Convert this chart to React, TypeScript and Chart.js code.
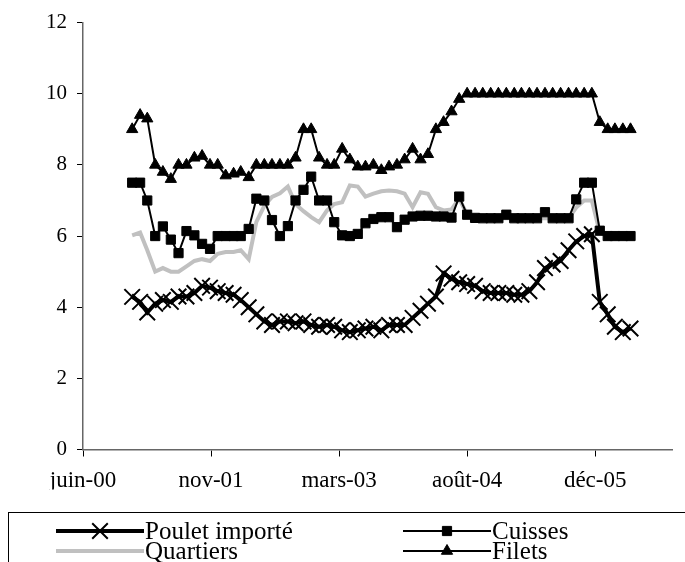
import React, { useEffect, useRef } from "react";
import { Chart, registerables } from "chart.js";

Chart.register(...registerables);

// Monthly observations (Jan 2001 .. May 2006)
const months = [
  "2001-01", "2001-02", "2001-03", "2001-04", "2001-05", "2001-06", "2001-07", "2001-08", "2001-09", "2001-10", "2001-11", "2001-12",
  "2002-01", "2002-02", "2002-03", "2002-04", "2002-05", "2002-06", "2002-07", "2002-08", "2002-09", "2002-10", "2002-11", "2002-12",
  "2003-01", "2003-02", "2003-03", "2003-04", "2003-05", "2003-06", "2003-07", "2003-08", "2003-09", "2003-10", "2003-11", "2003-12",
  "2004-01", "2004-02", "2004-03", "2004-04", "2004-05", "2004-06", "2004-07", "2004-08", "2004-09", "2004-10", "2004-11", "2004-12",
  "2005-01", "2005-02", "2005-03", "2005-04", "2005-05", "2005-06", "2005-07", "2005-08", "2005-09", "2005-10", "2005-11", "2005-12",
  "2006-01", "2006-02", "2006-03", "2006-04", "2006-05",
];

const pouletImporte = [
  4.29, 4.15, 3.85, 4.1, 4.2, 4.15, 4.3, 4.3, 4.4, 4.6, 4.55, 4.45,
  4.4, 4.35, 4.2, 4.0, 3.8, 3.6, 3.5, 3.6, 3.6, 3.55, 3.6, 3.5,
  3.45, 3.5, 3.45, 3.35, 3.3, 3.35, 3.4, 3.45, 3.35, 3.5, 3.5, 3.5,
  3.7, 3.9, 4.1, 4.3, 4.95, 4.8, 4.7, 4.65, 4.6, 4.45, 4.4, 4.4,
  4.4, 4.35, 4.35, 4.45, 4.7, 5.1, 5.2, 5.3, 5.6, 5.85, 6.0, 6.05,
  4.15, 3.8, 3.45, 3.3, 3.4,
];

const cuisses = [
  7.5, 7.5, 7.0, 6.0, 6.27, 5.9, 5.52, 6.14, 6.02, 5.78, 5.64, 6.0,
  6.0, 6.0, 6.0, 6.2, 7.05, 7.0, 6.45, 6.0, 6.28, 7.0, 7.3, 7.67,
  7.0, 7.0, 6.39, 6.02, 6.0, 6.06, 6.36, 6.48, 6.53, 6.53, 6.25, 6.46,
  6.55, 6.57, 6.57, 6.55, 6.55, 6.52, 7.11, 6.6, 6.51, 6.5, 6.5, 6.5,
  6.6, 6.5, 6.5, 6.5, 6.5, 6.67, 6.5, 6.5, 6.5, 7.03, 7.5, 7.5,
  6.15, 6.0, 6.0, 6.0, 6.0,
];

const quartiers = [
  6.02, 6.1, 5.6, 5.0, 5.1, 5.0, 5.0, 5.15, 5.3, 5.35, 5.3, 5.5,
  5.55, 5.55, 5.6, 5.35, 6.4, 6.85, 7.1, 7.2, 7.39, 6.9, 6.7, 6.53,
  6.39, 6.72, 6.9, 6.95, 7.42, 7.39, 7.11, 7.19, 7.26, 7.28, 7.26, 7.19,
  6.81, 7.23, 7.19, 6.81, 6.72, 6.75, 7.05, 6.6, 6.5, 6.5, 6.5, 6.5,
  6.5, 6.5, 6.5, 6.5, 6.5, 6.5, 6.5, 6.5, 6.5, 6.8, 7.0, 7.0,
  6.1, 6.0, 6.0, 6.0, 6.0,
];

const filets = [
  9.0, 9.4, 9.3, 8.0, 7.8, 7.6, 8.0, 8.0, 8.2, 8.25, 8.0, 8.0,
  7.7, 7.75, 7.8, 7.65, 8.0, 8.0, 8.0, 8.0, 8.0, 8.2, 9.0, 9.0,
  8.2, 8.0, 8.0, 8.45, 8.15, 7.95, 7.95, 8.0, 7.85, 7.95, 8.0, 8.15,
  8.45, 8.15, 8.3, 9.0, 9.2, 9.5, 9.85, 10.0, 10.0, 10.0, 10.0, 10.0,
  10.0, 10.0, 10.0, 10.0, 10.0, 10.0, 10.0, 10.0, 10.0, 10.0, 10.0, 10.0,
  9.2, 9.0, 9.0, 9.0, 9.0,
];

const seriesLabels = ["Poulet importé", "Cuisses", "Quartiers", "Filets"];

// X axis: Excel date serials, one tick every 500 days
const xTickValues = [36700, 37200, 37700, 38200, 38700];
const xTickLabels = ["juin-00", "nov-01", "mars-03", "août-04", "déc-05"];
const xMin = 36700;
const xMax = 39000;
const yMin = 0;
const yMax = 12;
const yStep = 2;

const FONT = "'Liberation Serif', 'Times New Roman', serif";

function toSerial(ym: string): number {
  const [y, m] = ym.split("-").map(Number);
  return (Date.UTC(y, m - 1, 1) - Date.UTC(1899, 11, 30)) / 86400000;
}

function pts(values: number[]) {
  return months.map((m, i) => ({ x: toSerial(m), y: values[i] }));
}

function drawMarker(ctx: CanvasRenderingContext2D, style: string, x: number, y: number, r: number) {
  ctx.beginPath();
  if (style === "crossRot") {
    const d = r * Math.SQRT1_2;
    ctx.moveTo(x - d, y - d);
    ctx.lineTo(x + d, y + d);
    ctx.moveTo(x + d, y - d);
    ctx.lineTo(x - d, y + d);
    ctx.stroke();
  } else if (style === "rect") {
    const s = r * Math.SQRT1_2;
    ctx.rect(x - s, y - s, 2 * s, 2 * s);
    ctx.fill();
    ctx.stroke();
  } else if (style === "triangle") {
    ctx.moveTo(x, y - r);
    ctx.lineTo(x + r * Math.sin(Math.PI / 3), y + r / 2);
    ctx.lineTo(x - r * Math.sin(Math.PI / 3), y + r / 2);
    ctx.closePath();
    ctx.fill();
    ctx.stroke();
  }
}

const boxLegend = {
  id: "boxLegend",
  afterDraw(chart: any) {
    const ctx: CanvasRenderingContext2D = chart.ctx;
    ctx.save();
    ctx.strokeStyle = "#000";
    ctx.lineWidth = 1;
    ctx.strokeRect(8.5, 512.5, 740, 100);
    const slots = [
      { x: 56, y: 531 },
      { x: 403, y: 531 },
      { x: 56, y: 551 },
      { x: 403, y: 551 },
    ];
    chart.data.datasets.forEach((ds: any, i: number) => {
      const s = slots[i];
      ctx.strokeStyle = ds.borderColor;
      ctx.lineWidth = ds.borderWidth;
      ctx.beginPath();
      ctx.moveTo(s.x, s.y);
      ctx.lineTo(s.x + 88, s.y);
      ctx.stroke();
      if (ds.pointRadius > 0) {
        ctx.fillStyle = ds.pointBackgroundColor;
        ctx.strokeStyle = ds.pointBorderColor;
        ctx.lineWidth = ds.pointBorderWidth;
        drawMarker(ctx, ds.pointStyle, s.x + 44, s.y, ds.pointRadius);
      }
      ctx.fillStyle = "#000";
      ctx.font = `25px ${FONT}`;
      ctx.textBaseline = "middle";
      ctx.textAlign = "left";
      ctx.fillText(ds.label, s.x + 89, s.y + 1);
    });
    ctx.restore();
  },
};

export default function App() {
  const ref = useRef<HTMLCanvasElement | null>(null);

  useEffect(() => {
    if (!ref.current) return;
    const chart = new Chart(ref.current, {
      type: "line",
      data: {
        datasets: [
          {
            label: seriesLabels[0],
            data: pts(pouletImporte),
            borderColor: "#000",
            borderWidth: 4,
            pointStyle: "crossRot",
            pointRadius: 11,
            pointBorderWidth: 2,
            pointBorderColor: "#000",
            pointBackgroundColor: "#000",
            tension: 0,
          },
          {
            label: seriesLabels[1],
            data: pts(cuisses),
            borderColor: "#000",
            borderWidth: 2,
            pointStyle: "rect",
            pointRadius: 6.5,
            pointBorderWidth: 1,
            pointBorderColor: "#000",
            pointBackgroundColor: "#000",
            tension: 0,
          },
          {
            label: seriesLabels[2],
            data: pts(quartiers),
            borderColor: "#c0c0c0",
            borderWidth: 4,
            pointRadius: 0,
            pointStyle: "circle",
            pointBorderWidth: 0,
            pointBorderColor: "#c0c0c0",
            pointBackgroundColor: "#c0c0c0",
            tension: 0,
          },
          {
            label: seriesLabels[3],
            data: pts(filets),
            borderColor: "#000",
            borderWidth: 2,
            pointStyle: "triangle",
            pointRadius: 6.5,
            pointBorderWidth: 1,
            pointBorderColor: "#000",
            pointBackgroundColor: "#000",
            tension: 0,
          },
        ],
      },
      options: {
        responsive: false,
        animation: false,
        events: [],
        layout: { padding: { left: 0, right: 13, top: 22, bottom: 72.5 } },
        plugins: { legend: { display: false }, tooltip: { enabled: false } },
        scales: {
          x: {
            type: "linear",
            min: xMin,
            max: xMax,
            afterBuildTicks: (scale: any) => {
              scale.ticks = xTickValues.map((v) => ({ value: v }));
            },
            afterFit: (scale: any) => {
              scale.height = 40;
            },
            grid: { drawOnChartArea: false, drawTicks: true, tickLength: 7, color: "#000", lineWidth: 1 },
            border: { display: true, color: "#666", width: 1.5 },
            ticks: {
              autoSkip: false,
              maxRotation: 0,
              padding: 11,
              color: "#000",
              font: { family: FONT, size: 23 },
              callback: (v: any) => {
                const idx = xTickValues.indexOf(Number(v));
                return idx >= 0 ? xTickLabels[idx] : "";
              },
            },
          },
          y: {
            min: yMin,
            max: yMax,
            afterFit: (scale: any) => {
              scale.width = 83;
            },
            grid: { drawOnChartArea: false, drawTicks: true, tickLength: 6, color: "#000", lineWidth: 1 },
            border: { display: true, color: "#666", width: 1.5 },
            ticks: {
              stepSize: yStep,
              padding: 10,
              color: "#000",
              font: { family: FONT, size: 21 },
            },
          },
        },
      },
      plugins: [boxLegend],
    });
    return () => chart.destroy();
  }, []);

  return (
    <div style={{ position: "absolute", left: 0, top: 0, width: 685, height: 562, background: "#fff" }}>
      <canvas ref={ref} width={685} height={562} style={{ display: "block" }} />
    </div>
  );
}
